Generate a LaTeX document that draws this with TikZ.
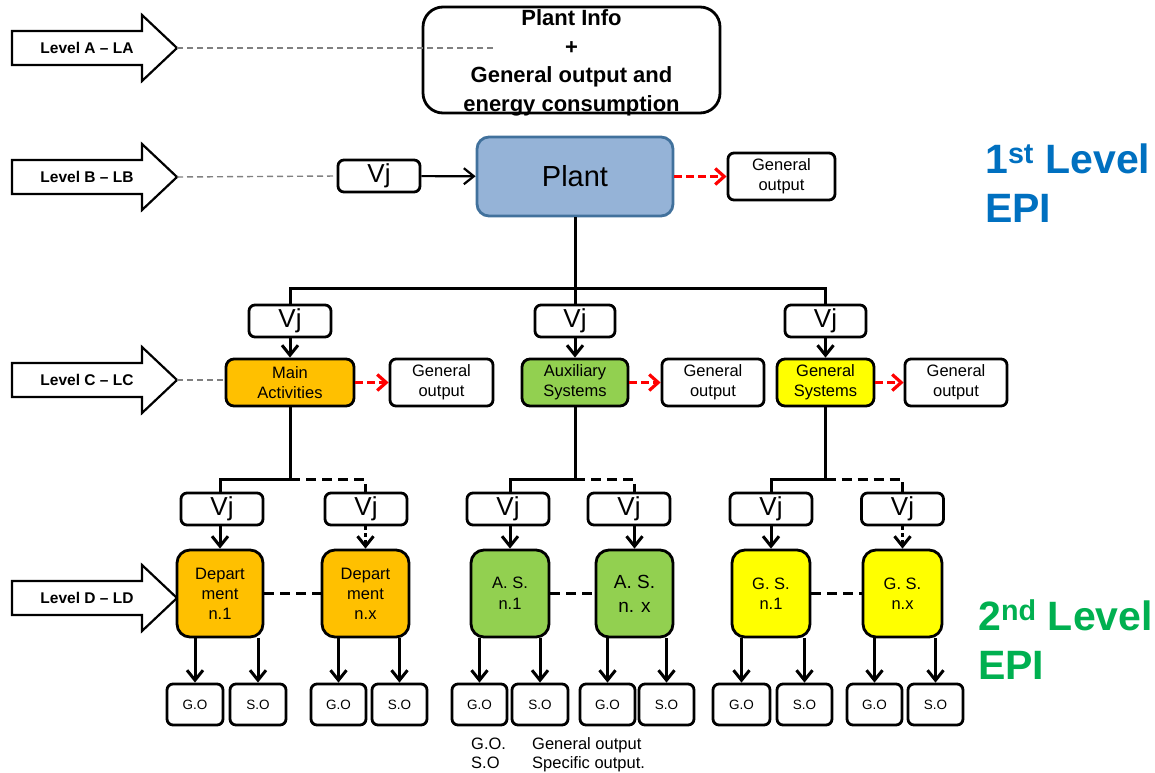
\documentclass[tikz,border=0pt]{standalone}
\usepackage{fontspec}
\setmainfont{Liberation Sans}
\usetikzlibrary{arrows.meta,calc}
\definecolor{plantfill}{RGB}{149,179,215}
\definecolor{plantdraw}{RGB}{65,113,156}
\definecolor{orng}{RGB}{255,192,0}
\definecolor{grn}{RGB}{146,208,80}
\definecolor{ylw}{RGB}{255,255,0}
\definecolor{epiblue}{RGB}{0,112,192}
\definecolor{epigreen}{RGB}{0,176,80}
\definecolor{dgray}{RGB}{128,128,128}
\newcommand{\myfs}[2]{\fontsize{#1}{#2}\selectfont}
\tikzset{
  box/.style={draw=black, line width=2.8pt, fill=white, rounded corners=6pt, align=center, inner sep=0pt},
  vjbox/.style={box, minimum width=82pt, minimum height=32pt, font=\myfs{26}{26}},
  gobox/.style={box, minimum height=47pt, font=\myfs{16.5}{20}},
  lcbox/.style={box, minimum height=47pt, rounded corners=8pt, font=\myfs{16.5}{20}},
  ldbox/.style={box, minimum height=87pt, rounded corners=13pt, font=\myfs{16.5}{20}},
  smallbox/.style={box, minimum height=41pt, minimum width=55pt, font=\myfs{13.5}{13.5}},
  plain/.style={line width=3pt, draw=black},
  conn/.style={line width=3pt, draw=black, -{Straight Barb[length=10pt,width=16pt]}},
  dconn/.style={conn, dash pattern=on 4pt off 3pt},
  blkdash/.style={line width=3pt, draw=black, dash pattern=on 10pt off 6pt},
  redarr/.style={line width=3.2pt, draw=red, dash pattern=on 8pt off 4pt, -{Straight Barb[length=9pt,width=16pt]}},
  grayd/.style={line width=1.4pt, draw=dgray, dash pattern=on 6pt off 4pt},
  levelarr/.style={draw=black, line width=2.2pt, fill=white, line join=miter},
  leveltxt/.style={font=\bfseries\myfs{15.5}{15.5}, inner sep=0pt},
  legend/.style={anchor=base west, font=\myfs{16.5}{16.5}, inner sep=0pt},
  epitxt/.style={anchor=base west, inner sep=0pt, font=\bfseries\myfs{41}{41}},
}
\begin{document}
\begin{tikzpicture}[x=1pt, y=-1pt]
\useasboundingbox (0,0) rectangle (1155,772);

% level arrows
\foreach \yy/\tt/\nn in {48/A -- LA/la, 177/B -- LB/lb, 380/C -- LC/lc, 598/D -- LD/ld} {
  \draw[levelarr] (12,\yy-17) -- (142,\yy-17) -- (142,\yy-33) -- (177,\yy) -- (142,\yy+33) -- (142,\yy+17) -- (12,\yy+17) -- cycle;
  \node[leveltxt] (\nn) at (87,\yy) {Level \tt};
  \coordinate (\nn tip) at (177,\yy);
}

% Level A
\node[box, minimum width=297pt, minimum height=106pt, rounded corners=20pt] (info) at (571.5,60) {};
\node[align=center, inner sep=0pt, font=\bfseries\myfs{22}{28.5}] (infotxt) at (571.5,63) {Plant Info\\+\\General output and\\energy consumption};
\coordinate (laend) at (495,48);
\draw[grayd] (latip) -- (laend);

% Level B
\node[vjbox] (vjb) at (379,176) {Vj};
\node[box, fill=plantfill, draw=plantdraw, rounded corners=12pt, minimum width=196pt, minimum height=79pt, font=\myfs{29}{29}] (plant) at (575,176.5) {Plant};
\node[gobox, minimum width=107pt] (gob) at (781.5,176.5) {General\\output};
\draw[grayd] (lbtip) -- (vjb.west);
\draw[conn, line width=2.2pt] (vjb) -- (plant);
\draw[redarr] (plant) -- (gob);

% Level C
\node[vjbox] (vjc1) at (290,321) {Vj};
\node[vjbox, minimum width=80pt] (vjc2) at (575,321) {Vj};
\node[vjbox, minimum width=81pt] (vjc3) at (825.5,321) {Vj};
\draw[plain] (plant.south) -- (vjc2.north);
\draw[plain] (vjc1.north) -- ++(0,-15) -| (vjc3.north);

\node[lcbox, fill=orng, minimum width=128pt] (main) at (290,382.5) {Main\\Activities};
\node[gobox, minimum width=103pt] (go1) at (441.5,382.5) {General\\output};
\node[lcbox, fill=grn, minimum width=106pt] (aux) at (575,382.5) {Auxiliary\\Systems};
\node[gobox, minimum width=102pt] (go2) at (713,382.5) {General\\output};
\node[lcbox, fill=ylw, minimum width=97pt] (gen) at (825.5,382.5) {General\\Systems};
\node[gobox, minimum width=102pt] (go3) at (956,382.5) {General\\output};
\draw[conn] (vjc1) -- (main);
\draw[conn] (vjc2) -- (aux);
\draw[conn] (vjc3) -- (gen);
\draw[redarr] (main) -- (go1);
\draw[redarr] (aux) -- (go2);
\draw[redarr] (gen) -- (go3);
\draw[grayd] (lctip) -- (lctip -| main.west);

% Level D
\node[vjbox] (vjd1) at (222,509) {Vj};
\node[vjbox] (vjd2) at (366,509) {Vj};
\node[vjbox] (vjd3) at (508,509) {Vj};
\node[vjbox] (vjd4) at (629,509) {Vj};
\node[vjbox] (vjd5) at (771,509) {Vj};
\node[vjbox] (vjd6) at (902.5,509) {Vj};

\node[ldbox, fill=orng, minimum width=86pt] (d1) at (220,593.5) {Depart\\ment\\n.1};
\node[ldbox, fill=orng, minimum width=87pt] (d2) at (365.5,593.5) {Depart\\ment\\n.x};
\node[ldbox, fill=grn, minimum width=78pt, font=\myfs{16.5}{21}] (a1) at (510,593.5) {A. S.\\n.1};
\node[ldbox, fill=grn, minimum width=77pt, font=\myfs{19}{24}] (a2) at (634.5,593.5) {A. S.\\n. x};
\node[ldbox, fill=ylw, minimum width=78pt] (g1) at (771,593.5) {G. S.\\n.1};
\node[ldbox, fill=ylw, minimum width=79pt] (g2) at (902.5,593.5) {G. S.\\n.x};

\draw[plain] (main.south) -- ++(0,72) coordinate (mh) -| (vjd1.north -| d1.north);
\draw[blkdash] (mh) -| (vjd2.north -| d2.north);
\draw[plain] (aux.south) -- ++(0,72) coordinate (ah) -| (vjd3.north -| a1.north);
\draw[blkdash] (ah) -| (vjd4.north -| a2.north);
\draw[plain] (gen.south) -- ++(0,72) coordinate (gh) -| (vjd5.north -| g1.north);
\draw[blkdash] (gh) -| (vjd6.north -| g2.north);

\draw[conn] (vjd1.south -| d1.north) -- (d1.north);
\draw[dconn] (vjd2.south -| d2.north) -- (d2.north);
\draw[conn] (vjd3.south -| a1.north) -- (a1.north);
\draw[conn] (vjd4.south -| a2.north) -- (a2.north);
\draw[conn] (vjd5.south -| g1.north) -- (g1.north);
\draw[dconn] (vjd6.south -| g2.north) -- (g2.north);

\draw[blkdash] (d1.east) -- (d2.west);
\draw[blkdash] (a1.east) -- (a2.west);
\draw[blkdash] (g1.east) -- (g2.west);

% outputs
\node[smallbox, minimum width=56pt] (o1) at (195,704.5) {G.O};
\node[smallbox, minimum width=56pt] (o2) at (258,704.5) {S.O};
\node[smallbox] (o3) at (338.5,704.5) {G.O};
\node[smallbox] (o4) at (399.5,704.5) {S.O};
\node[smallbox] (o5) at (479.5,704.5) {G.O};
\node[smallbox, minimum width=56pt] (o6) at (540,704.5) {S.O};
\node[smallbox] (o7) at (607.5,704.5) {G.O};
\node[smallbox] (o8) at (666.5,704.5) {S.O};
\node[smallbox, minimum width=57pt] (o9) at (741.5,704.5) {G.O};
\node[smallbox] (o10) at (804.5,704.5) {S.O};
\node[smallbox] (o11) at (874.5,704.5) {G.O};
\node[smallbox] (o12) at (935.5,704.5) {S.O};

\draw[conn] (o1.north |- d1.south) -- (o1.north);
\draw[conn] (o2.north |- d1.south) -- (o2.north);
\draw[conn] (o3.north |- d2.south) -- (o3.north);
\draw[conn] (o4.north |- d2.south) -- (o4.north);
\draw[conn] (o5.north |- a1.south) -- (o5.north);
\draw[conn] (o6.north |- a1.south) -- (o6.north);
\draw[conn] (o7.north |- a2.south) -- (o7.north);
\draw[conn] (o8.north |- a2.south) -- (o8.north);
\draw[conn] (o9.north |- g1.south) -- (o9.north);
\draw[conn] (o10.north |- g1.south) -- (o10.north);
\draw[conn] (o11.north |- g2.south) -- (o11.north);
\draw[conn] (o12.north |- g2.south) -- (o12.north);

% legend
\node[legend] (lg1) at (471,749) {G.O.};
\node[legend] (lg2) at (532,749) {General output};
\node[legend] (ls1) at (471,768) {S.O};
\node[legend] (ls2) at (532,768) {Specific output.};

% EPI labels
\node[epitxt, text=epiblue] (epi1a) at (985,173) {1\textsuperscript{st} Level};
\node[epitxt, text=epiblue] (epi1b) at (985,222) {EPI};
\node[epitxt, text=epigreen] (epi2a) at (978,630) {2\textsuperscript{nd} Level};
\node[epitxt, text=epigreen] (epi2b) at (978,679) {EPI};
\end{tikzpicture}
\end{document}
